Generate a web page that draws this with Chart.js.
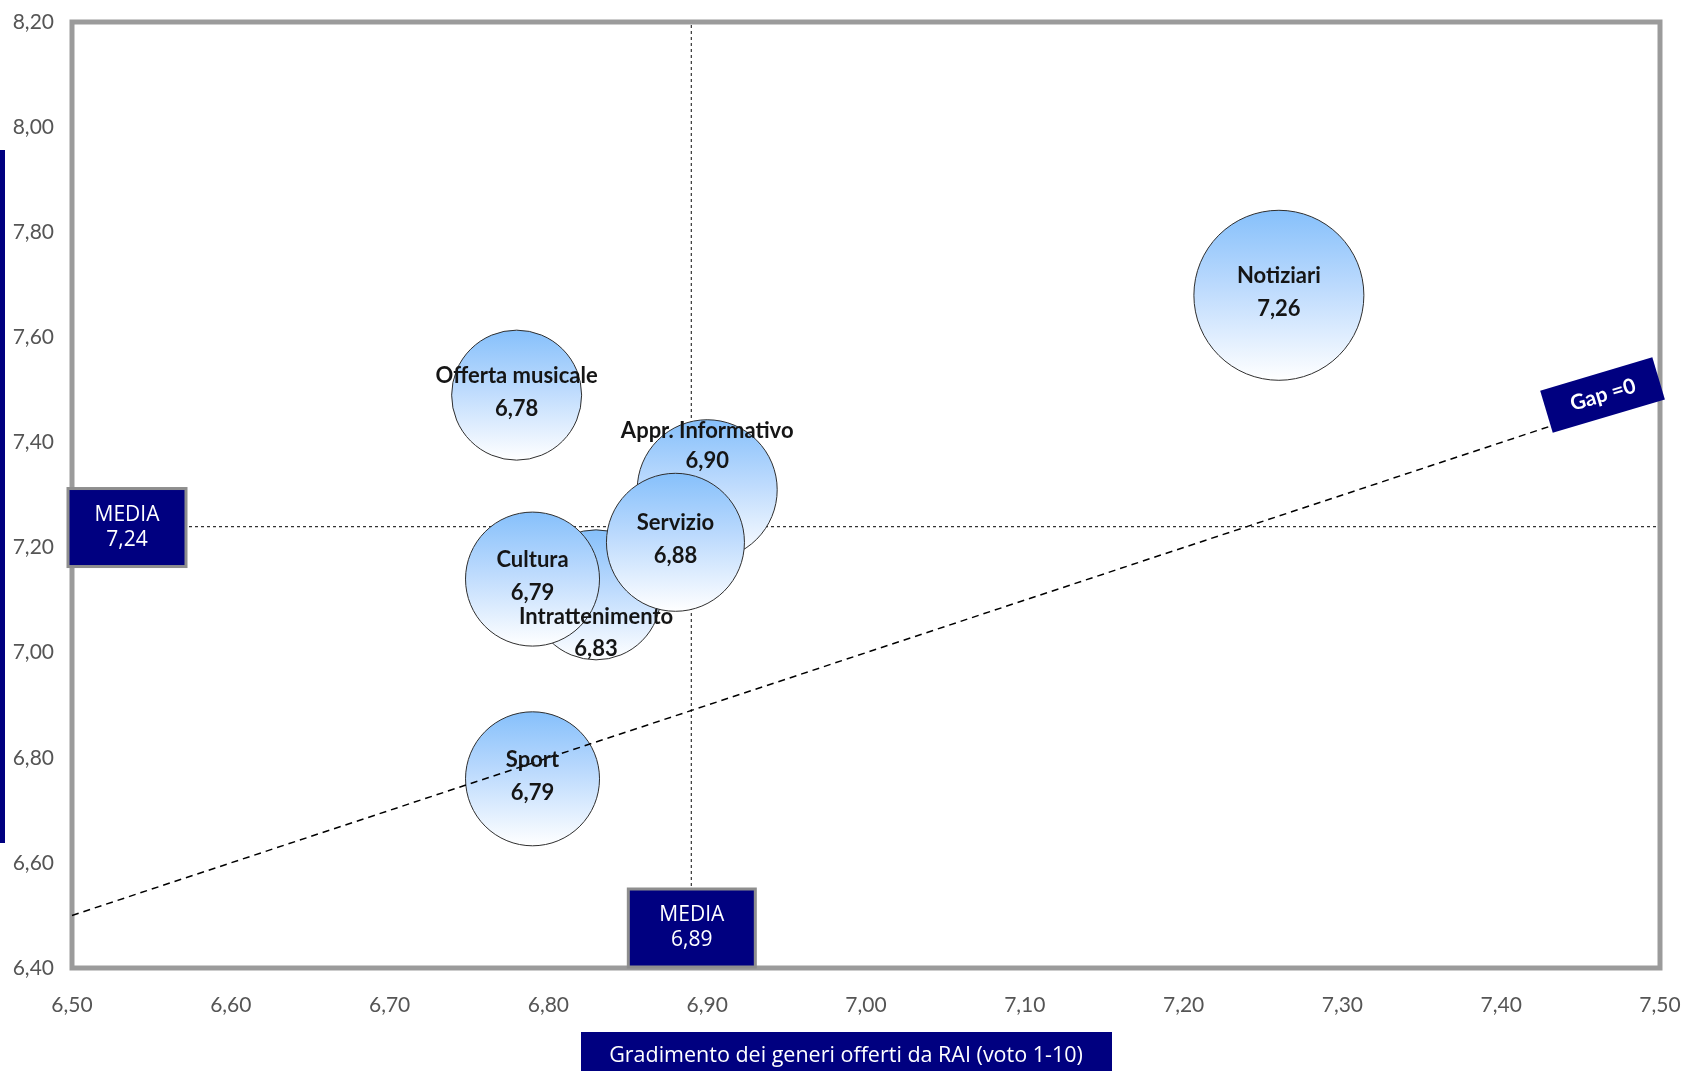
<!DOCTYPE html>
<html lang="it">
<head>
<meta charset="utf-8">
<title>Gradimento dei generi offerti da RAI</title>
<script src="https://cdn.jsdelivr.net/npm/chart.js@4.4.1/dist/chart.umd.min.js"></script>
<style>
html,body{margin:0;padding:0;background:#fff;}
#wrap{position:relative;width:1683px;height:1071px;}
</style>
</head>
<body>
<div id="wrap"><canvas id="c" width="1683" height="1071"></canvas></div>
<script>
// Generi, nell'ordine di disegno (gli ultimi restano sopra)
const generi = ['Notiziari', 'Offerta musicale', 'Appr. Informativo', 'Intrattenimento', 'Servizio', 'Cultura', 'Sport'];
// Gradimento (voto 1-10), asse X
const gradimento = [7.26, 6.78, 6.90, 6.83, 6.88, 6.79, 6.79];
// Importanza, asse Y
const importanza = [7.68, 7.49, 7.31, 7.11, 7.21, 7.14, 6.76];
// Peso del genere (raggio della bolla)
const peso = [85, 65, 70, 65, 69, 67, 67];
// Valori medi
const mediaGradimento = 6.89;
const mediaImportanza = 7.24;
// Retta Gap = 0 (importanza = gradimento), estremi in X
const gapEstremi = [6.50, 7.43];
// Etichette degli assi
const tickX = [6.50, 6.60, 6.70, 6.80, 6.90, 7.00, 7.10, 7.20, 7.30, 7.40, 7.50];
const tickY = [6.40, 6.60, 6.80, 7.00, 7.20, 7.40, 7.60, 7.80, 8.00, 8.20];
const titoloX = 'Gradimento dei generi offerti da RAI (voto 1-10)';

const NAVY = '#000080';
const fmt = v => v.toFixed(2).replace('.', ',');

// Posizione del nome rispetto alla bolla (default: al centro)
const posEtichetta = { 'Appr. Informativo': 'sopra', 'Intrattenimento': 'sotto' };

const punti = generi.map((g, i) => ({ x: gradimento[i], y: importanza[i], r: peso[i], nome: g }));

function sfumatura(ctx) {
  const chart = ctx.chart;
  if (!chart.chartArea || !ctx.raw) return '#cfe4ff';
  const py = chart.scales.y.getPixelForValue(ctx.raw.y);
  const r = ctx.raw.r;
  const g = chart.ctx.createLinearGradient(0, py - r, 0, py + r);
  g.addColorStop(0, '#86c0fb');
  g.addColorStop(0.45, '#bcdafd');
  g.addColorStop(1, '#ffffff');
  return g;
}

function boxMedia(ctx, x, y, w, h, righe) {
  ctx.fillStyle = NAVY;
  ctx.fillRect(x, y, w, h);
  ctx.strokeStyle = '#8e8e8e';
  ctx.lineWidth = 3;
  ctx.strokeRect(x, y, w, h);
  ctx.fillStyle = '#ffffff';
  ctx.font = '21px "Open Sans"';
  ctx.textAlign = 'center';
  ctx.textBaseline = 'middle';
  ctx.fillText(righe[0], x + w / 2, y + h / 2 - 13);
  ctx.fillText(righe[1], x + w / 2, y + h / 2 + 12);
}

// Cornice e linee delle medie, sotto le bolle
const sfondo = {
  id: 'sfondo',
  beforeDatasetsDraw(chart) {
    const { ctx, chartArea: a, scales: { x, y } } = chart;
    ctx.save();
    ctx.strokeStyle = '#9b9b9b';
    ctx.lineWidth = 5;
    ctx.strokeRect(a.left, a.top, a.right - a.left, a.bottom - a.top);

    const mx = x.getPixelForValue(mediaGradimento);
    const my = y.getPixelForValue(mediaImportanza);
    ctx.setLineDash([3, 3]);
    ctx.strokeStyle = '#333';
    ctx.lineWidth = 1.2;
    ctx.beginPath();
    ctx.moveTo(mx, a.top + 3); ctx.lineTo(mx, a.bottom - 3);
    ctx.moveTo(a.left + 3, my); ctx.lineTo(a.right - 3, my);
    ctx.stroke();
    ctx.restore();
  }
};

// Retta Gap=0, etichette delle bolle, riquadri delle medie e titolo
const sopra = {
  id: 'sopra',
  afterDatasetsDraw(chart) {
    const { ctx, chartArea: a, scales: { x, y } } = chart;
    ctx.save();

    // retta Gap = 0
    const x0 = x.getPixelForValue(gapEstremi[0]), y0 = y.getPixelForValue(gapEstremi[0]);
    const x1 = x.getPixelForValue(gapEstremi[1]), y1 = y.getPixelForValue(gapEstremi[1]);
    ctx.setLineDash([7, 5]);
    ctx.strokeStyle = '#000';
    ctx.lineWidth = 1.5;
    ctx.beginPath();
    ctx.moveTo(x0, y0); ctx.lineTo(x1, y1);
    ctx.stroke();
    ctx.setLineDash([]);

    // etichette delle bolle
    const meta = chart.getDatasetMeta(0);
    ctx.font = 'bold 22px Lato';
    ctx.fillStyle = '#151515';
    ctx.textAlign = 'center';
    ctx.textBaseline = 'middle';
    meta.data.forEach((el, i) => {
      const p = punti[i];
      const pos = posEtichetta[p.nome];
      let dn = -19, dv = 14;
      if (pos === 'sopra') { dn = -59; dv = -29; }
      if (pos === 'sotto') { dn = 22; dv = 54; }
      ctx.fillText(p.nome, el.x, el.y + dn);
      ctx.fillText(fmt(p.x), el.x, el.y + dv);
    });

    // riquadro Gap = 0
    const ang = Math.atan2(y1 - y0, x1 - x0) + 0.03;
    ctx.translate(x1, y1);
    ctx.rotate(ang);
    ctx.fillStyle = NAVY;
    ctx.fillRect(2, -37, 117, 44);
    ctx.fillStyle = '#fff';
    ctx.font = 'bold 21px Lato';
    ctx.fillText('Gap =0', 61, -15);
    ctx.setTransform(1, 0, 0, 1, 0, 0);

    // riquadri delle medie
    const my = y.getPixelForValue(mediaImportanza);
    boxMedia(ctx, a.left - 4, my - 38, 118, 78, ['MEDIA', fmt(mediaImportanza)]);
    const mx = x.getPixelForValue(mediaGradimento);
    boxMedia(ctx, mx - 63, a.bottom - 79, 127, 78, ['MEDIA', fmt(mediaGradimento)]);

    // titolo asse X
    ctx.fillStyle = NAVY;
    ctx.fillRect(581, a.bottom + 64, 531, 45);
    ctx.fillStyle = '#fff';
    ctx.font = '21.5px "Open Sans"';
    ctx.textAlign = 'center';
    ctx.textBaseline = 'middle';
    ctx.fillText(titoloX, 846, a.bottom + 88);

    // barra del titolo asse Y
    ctx.fillStyle = NAVY;
    ctx.fillRect(0, 150, 5, 693);
    ctx.restore();
  }
};

new Chart(document.getElementById('c'), {
  type: 'bubble',
  data: {
    datasets: [{
      data: punti,
      backgroundColor: sfumatura,
      borderColor: '#2e2e2e',
      borderWidth: 1,
      hoverBorderWidth: 1
    }]
  },
  options: {
    responsive: false,
    animation: false,
    events: [],
    devicePixelRatio: 1,
    layout: { autoPadding: false, padding: { top: 22, right: 23, left: 0, bottom: 0 } },
    plugins: { legend: { display: false }, tooltip: { enabled: false } },
    scales: {
      x: {
        type: 'linear',
        min: 6.5, max: 7.5,
        afterBuildTicks: s => { s.ticks = tickX.map(v => ({ value: v })); },
        afterFit: s => { s.height = 103; s.paddingLeft = 0; s.paddingRight = 0; },
        grid: { display: false, drawTicks: false },
        border: { display: false },
        ticks: {
          autoSkip: false, maxRotation: 0, padding: 25,
          color: '#555', font: { family: 'Lato', size: 21 },
          callback: v => fmt(v)
        }
      },
      y: {
        type: 'linear',
        min: 6.4, max: 8.2,
        afterBuildTicks: s => { s.ticks = tickY.map(v => ({ value: v })); },
        afterFit: s => { s.width = 72; s.paddingTop = 0; s.paddingBottom = 0; },
        grid: { display: false, drawTicks: false },
        border: { display: false },
        ticks: {
          autoSkip: false, padding: 18,
          color: '#555', font: { family: 'Lato', size: 21 },
          callback: v => fmt(v)
        }
      }
    }
  },
  plugins: [sfondo, sopra]
});
</script>
</body>
</html>
